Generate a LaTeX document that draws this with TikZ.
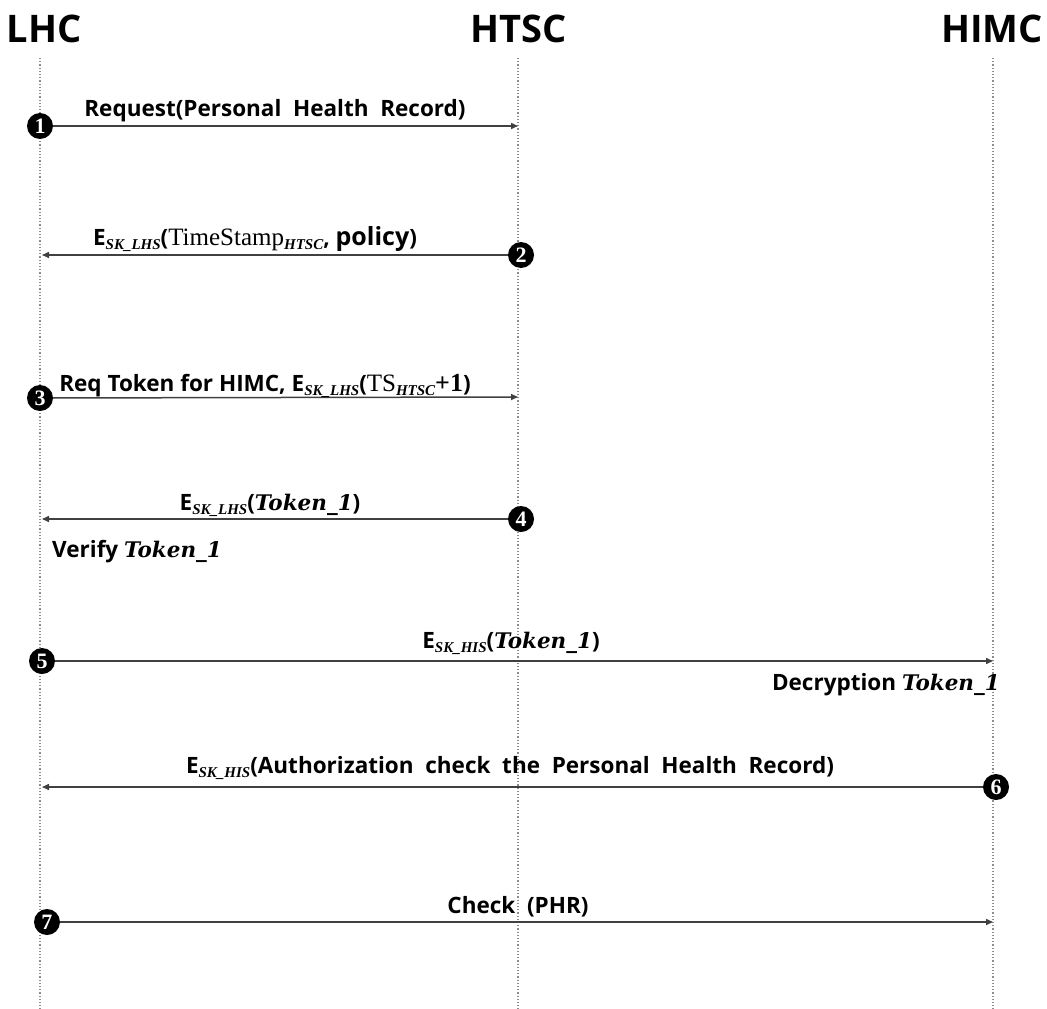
\documentclass[tikz,border=0pt]{standalone}
\usepackage{fontspec}
\setmainfont{Open Sans}
\newfontfamily\lbl{Open Sans}
\newfontfamily\mth{Liberation Serif}
\newfontfamily\tkf{DejaVu Serif}
\usetikzlibrary{arrows.meta}
\newcommand\sbs[1]{\raisebox{-0.35ex}{\fontsize{15}{16}\selectfont\mth\bfseries\itshape #1}}
\newcommand\tok{{\tkf\bfseries\itshape\fontsize{21.5}{24}\selectfont Token\_1}}
\newcommand\rom[1]{{\mth\mdseries\fontsize{25}{26}\selectfont #1}}
\begin{document}
\begin{tikzpicture}[x=1pt,y=-1pt,
  life/.style={draw=black!45, dotted, line width=1.2pt},
  msg/.style={draw=black!75, line width=1.5pt, -{Triangle[length=7pt,width=6pt]}},
  num/.style={circle, fill=black, text=white, inner sep=0pt, minimum width=26pt, minimum height=26pt, font=\mth\bfseries\fontsize{22}{22}\selectfont},
  lab/.style={inner sep=0pt, anchor=base, font=\lbl\bfseries\fontsize{22.5}{26}\selectfont},
  ttl/.style={inner sep=0pt, anchor=base, font=\bfseries\fontsize{38}{42}\selectfont}]
\useasboundingbox (0,0) rectangle (1047,1009);
% titles
\node[ttl] (tL) at (44,42) {LHC};
\node[ttl] (tH) at (519,42) {HTSC};
\node[ttl] (tM) at (992,42) {HIMC};
% lifelines
\coordinate (Ltop) at (40,58);  \coordinate (Lbot) at (40,1009);
\coordinate (Htop) at (518,58); \coordinate (Hbot) at (518,1009);
\coordinate (Mtop) at (993,58); \coordinate (Mbot) at (993,1009);
\draw[life] (Ltop) -- (Lbot);
\draw[life] (Htop) -- (Hbot);
\draw[life] (Mtop) -- (Mbot);
% 1
\node[num] (n1) at (40,126) {1};
\coordinate (e1) at (518,126);
\draw[msg] (n1) -- (e1);
\node[lab] (m1) at (275,116) {Request(Personal\ \ Health\ \ Record)};
% 2
\node[num] (n2) at (521,255) {2};
\coordinate (e2) at (42,255);
\draw[msg] (n2) -- (e2);
\node[lab] (m2) at (255,245) {E\sbs{SK\_LHS}(\rom{TimeStamp}\sbs{HTSC}, {\fontsize{25}{26}\selectfont policy})};
% 3
\node[num] (n3) at (40,398) {3};
\coordinate (e3) at (518,397);
\draw[msg] (n3) -- (e3);
\node[lab] (m3) at (265,391) {Req Token for HIMC, E\sbs{SK\_LHS}(\rom{TS}\sbs{HTSC}{\mth\fontsize{26}{26}\selectfont +1})};
% 4
\node[num] (n4) at (521,519) {4};
\coordinate (e4) at (42,519);
\draw[msg] (n4) -- (e4);
\node[lab] (m4) at (270,510) {E\sbs{SK\_LHS}(\tok)};
\node[lab, anchor=base west] (v4) at (52,557) {Verify \tok};
% 5
\node[num] (n5) at (42,661) {5};
\coordinate (e5) at (993,661);
\draw[msg] (n5) -- (e5);
\node[lab] (m5) at (511,648) {E\sbs{SK\_HIS}(\tok)};
\node[lab, anchor=base east] (d5) at (1000,690) {Decryption \tok};
% 6
\node[num] (n6) at (996,787) {6};
\coordinate (e6) at (42,787);
\draw[msg] (n6) -- (e6);
\node[lab] (m6) at (510,773) {E\sbs{SK\_HIS}(Authorization\ \ check\ \ the\ \ Personal\ \ Health\ \ Record)};
% 7
\node[num] (n7) at (47,922) {7};
\coordinate (e7) at (993,922);
\draw[msg] (n7) -- (e7);
\node[lab] (m7) at (518,913) {Check\ \ (PHR)};
\end{tikzpicture}
\end{document}
